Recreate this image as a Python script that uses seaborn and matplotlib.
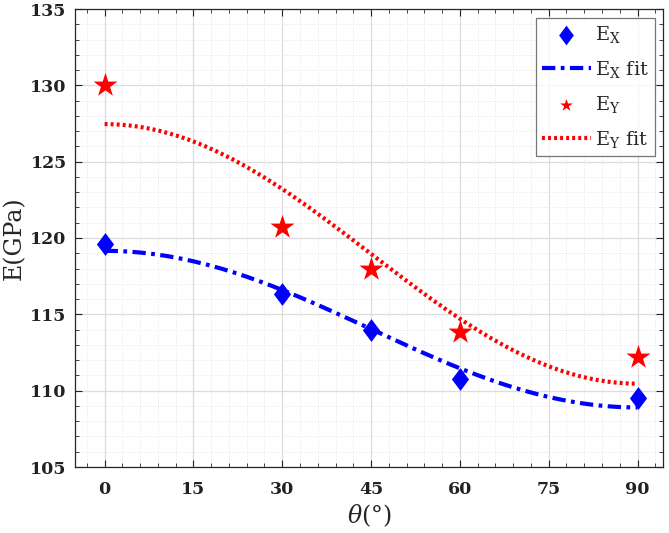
import numpy as np
import pandas as pd
import matplotlib
matplotlib.use("Agg")
import matplotlib.pyplot as plt
from matplotlib.path import Path
import seaborn as sns
from matplotlib.ticker import MultipleLocator

# ---- data ----
theta = [0, 30, 45, 60, 90]
E_X = [119.6, 116.3, 113.95, 110.75, 109.55]
E_Y = [130.0, 120.75, 118.0, 113.85, 112.2]
x_ticks = [0, 15, 30, 45, 60, 75, 90]
y_ticks = [105, 110, 115, 120, 125, 130, 135]

sns.set_theme(style="white")
plt.rcParams['font.family'] = ['DejaVu Serif']
plt.rcParams['mathtext.fontset'] = 'dejavuserif'

# least squares fit E = a + b cos^2(theta)
c2 = np.cos(np.radians(theta)) ** 2
bx, ax_ = np.polyfit(c2, E_X, 1)
by, ay_ = np.polyfit(c2, E_Y, 1)
t_fit = np.linspace(0, 90, 181)
c2f = np.cos(np.radians(t_fit)) ** 2
fit_df = pd.DataFrame({"theta": t_fit, "EX": ax_ + bx * c2f, "EY": ay_ + by * c2f})
pts = pd.DataFrame({"theta": theta, "EX": E_X, "EY": E_Y})

diamond = Path([(0, 1), (0.75, 0), (0, -1), (-0.75, 0), (0, 1)],
               [Path.MOVETO, Path.LINETO, Path.LINETO, Path.LINETO, Path.CLOSEPOLY])

fig = plt.figure(figsize=(6.69, 5.33), dpi=100)
ax = fig.add_axes([75/669, 1-467/533, (663-75)/669, (467-9)/533])

sns.scatterplot(data=pts, x="theta", y="EX", marker=diamond, color="blue", s=270,
                edgecolor="blue", linewidth=0, ax=ax, label=r"E$_\mathregular{X}$", zorder=3)
sns.lineplot(data=fit_df, x="theta", y="EX", color="blue", linewidth=3,
             ax=ax, label=r"E$_\mathregular{X}$ fit", zorder=2)
ax.lines[-1].set_linestyle((0, (3.2, 1.3, 0.9, 1.3)))
sns.scatterplot(data=pts, x="theta", y="EY", marker="*", color="red", s=330,
                edgecolor="red", linewidth=0, ax=ax, label=r"E$_\mathregular{Y}$", zorder=3)
sns.lineplot(data=fit_df, x="theta", y="EY", color="red", linewidth=3,
             ax=ax, label=r"E$_\mathregular{Y}$ fit", zorder=2)
ax.lines[-1].set_linestyle((0, (0.7, 0.75)))

ax.set_xlim(-5, 94.3)
ax.set_ylim(105, 135)
ax.set_xticks(x_ticks)
ax.set_yticks(y_ticks)
ax.xaxis.set_minor_locator(MultipleLocator(3))
ax.yaxis.set_minor_locator(MultipleLocator(1))
ax.grid(True, which="major", color="#dcdcdc", linewidth=0.9, linestyle="-")
ax.grid(True, which="minor", color="#e6e6e6", linewidth=0.7, linestyle=":")
ax.set_axisbelow(True)
ax.tick_params(which="both", direction="in", top=True, right=True, bottom=True, left=True,
               labelsize=12.5, colors="#222222")
ax.tick_params(which="major", length=5, width=0.8)
ax.tick_params(which="minor", length=3, width=0.6)
ax.tick_params(axis="x", which="major", pad=10)
ax.tick_params(axis="y", which="major", pad=6)
for lbl in ax.get_xticklabels() + ax.get_yticklabels():
    lbl.set_fontweight("bold")
for s in ax.spines.values():
    s.set_color("#262626")
    s.set_linewidth(0.9)

ax.set_xlabel(r"$\theta$(°)", fontsize=17, labelpad=3)
ax.set_ylabel("E(GPa)", fontsize=17, labelpad=3)

leg = ax.legend(loc="upper right", fontsize=14, frameon=True, fancybox=False,
                edgecolor="#555555", handlelength=2.55, borderpad=0.3,
                labelspacing=0.72, handletextpad=0.2, borderaxespad=0,
                bbox_to_anchor=(0.986, 0.980))
leg.get_frame().set_linewidth(0.9)
hs = leg.legend_handles
hs[0].set_sizes([200])
hs[2].set_sizes([90])

fig.savefig("out.png", dpi=100)
